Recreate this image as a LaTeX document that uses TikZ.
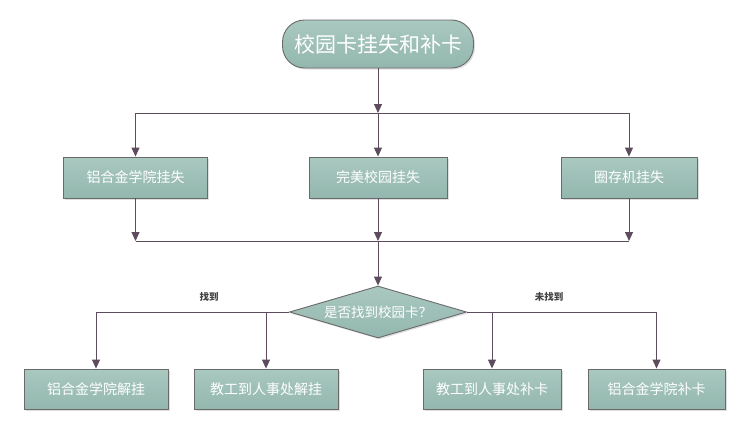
\documentclass[tikz,border=0pt]{standalone}
\usepackage{fontspec}
\newfontfamily\cjk{Noto Sans CJK SC}
\usetikzlibrary{arrows.meta,shapes.geometric,shadows}
\definecolor{linec}{HTML}{5E4C5E}
\definecolor{boxtop}{HTML}{A9C8C0}
\definecolor{boxbot}{HTML}{93B7AE}
\definecolor{edgec}{HTML}{6A6A6A}
\tikzset{
  boxst/.style={draw=edgec, line width=0.9pt, top color=boxtop, bottom color=boxbot,
    text=white, font=\cjk\fontsize{14}{16}\selectfont, inner sep=0pt,
    drop shadow={shadow xshift=1.5pt, shadow yshift=-1.5pt, opacity=0.25}},
  conn/.style={draw=linec, line width=0.9pt},
  arr/.style={conn, -{Triangle[length=9pt,width=8pt]}},
  lbl/.style={font=\cjk\bfseries\fontsize{9.5}{11}\selectfont, text=black!75}
}
\begin{document}
\begin{tikzpicture}[x=1pt,y=-1pt]
\useasboundingbox (0,0) rectangle (744,431);
% title
\node[boxst, rounded corners=22pt, minimum width=191pt, minimum height=48pt,
  font=\cjk\fontsize{21}{25}\selectfont] (title) at (378,44) {校园卡挂失和补卡};
% level 1 boxes
\node[boxst, minimum width=144pt, minimum height=41pt] (b1) at (135.5,177.5) {铝合金学院挂失};
\node[boxst, minimum width=138pt, minimum height=41pt] (b2) at (378,177.5) {完美校园挂失};
\node[boxst, minimum width=136pt, minimum height=41pt] (b3) at (629,177.5) {圈存机挂失};
% diamond
\node[diamond, draw=edgec, line width=0.9pt, top color=boxtop, bottom color=boxbot,
  minimum width=177pt, minimum height=52pt, inner sep=0pt, aspect=3.4,
  text=white, font=\cjk\fontsize{13.5}{15}\selectfont,
  drop shadow={shadow xshift=1.5pt, shadow yshift=-1.5pt, opacity=0.25}] (d) at (378,312) {是否找到校园卡？};
% bottom boxes
\node[boxst, minimum width=144pt, minimum height=40pt] (c1) at (96,389) {铝合金学院解挂};
\node[boxst, minimum width=144pt, minimum height=40pt] (c2) at (266,389) {教工到人事处解挂};
\node[boxst, minimum width=138pt, minimum height=40pt] (c3) at (492,389) {教工到人事处补卡};
\node[boxst, minimum width=137pt, minimum height=40pt] (c4) at (656.5,389) {铝合金学院补卡};
% junction coordinates
\coordinate (j1) at (378,113);
\coordinate (j1l) at (135.5,113);
\coordinate (j1r) at (629,113);
\coordinate (j2) at (378,241);
\coordinate (j2l) at (135.5,241);
\coordinate (j2r) at (629,241);
\coordinate (dl1) at (266,312);
\coordinate (dl2) at (96,312);
\coordinate (dr1) at (492,312);
\coordinate (dr2) at (656.5,312);
% connectors
\draw[arr] (title.south) -- (j1);
\draw[conn] (j1l) -- (j1r);
\draw[arr] (j1l) -- (b1.north);
\draw[arr] (j1) -- (b2.north);
\draw[arr] (j1r) -- (b3.north);
\draw[arr] (b1.south) -- (j2l);
\draw[arr] (b2.south) -- (j2);
\draw[arr] (b3.south) -- (j2r);
\draw[conn] (j2l) -- (j2r);
\draw[arr] (j2) -- (d.north);
\draw[conn] (d.west) -- (dl2);
\draw[conn] (d.east) -- (dr2);
\draw[arr] (dl2) -- (c1.north);
\draw[arr] (dl1) -- (c2.north);
\draw[arr] (dr1) -- (c3.north);
\draw[arr] (dr2) -- (c4.north);
% labels
\node[lbl] (l1) at (209,297) {找到};
\node[lbl] (l2) at (549,297) {未找到};
\end{tikzpicture}
\end{document}
